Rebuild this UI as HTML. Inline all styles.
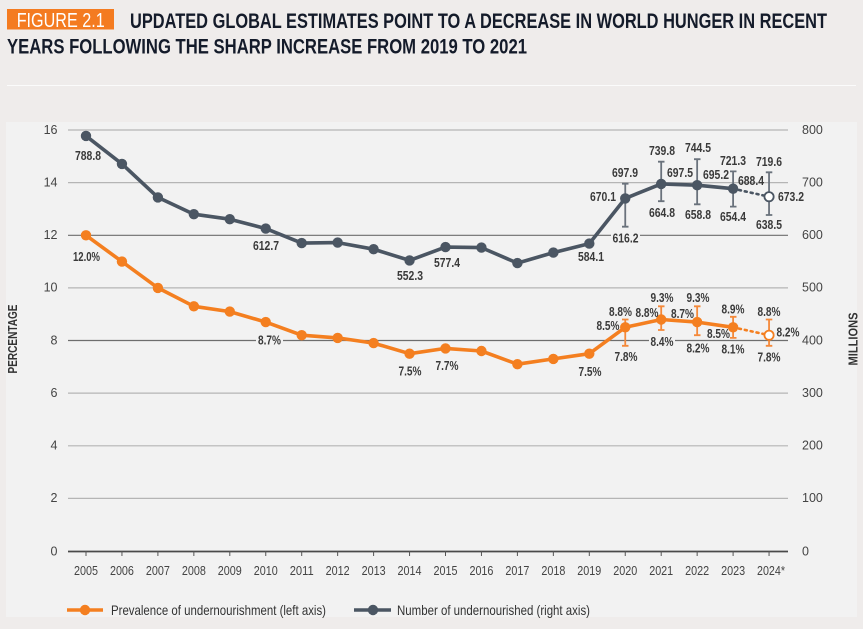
<!DOCTYPE html>
<html><head><meta charset="utf-8"><style>
html,body{margin:0;padding:0;background:#efeceb;}
svg{display:block;}
text{font-family:"Liberation Sans Narrow","Liberation Sans",sans-serif;}
.t{font-weight:bold;fill:#141b2a;font-size:21px;}
.ax{font-size:12.5px;fill:#444;}
.lb{font-size:12.5px;font-weight:bold;fill:#3a3a3a;}
.lg{font-size:14px;fill:#333;}
.at{font-size:12.5px;font-weight:bold;fill:#333;}
</style></head><body>
<svg width="863" height="629" viewBox="0 0 863 629" xmlns="http://www.w3.org/2000/svg">
<rect x="0" y="0" width="863" height="629" fill="#efeceb"/>
<!-- title -->
<rect x="7" y="9" width="107" height="20.5" fill="#f47b20"/>
<text x="16.7" y="27" font-size="20" fill="#fff" textLength="88" lengthAdjust="spacingAndGlyphs">FIGURE 2.1</text>
<text class="t" x="130" y="28" textLength="697" lengthAdjust="spacingAndGlyphs">UPDATED GLOBAL ESTIMATES POINT TO A DECREASE IN WORLD HUNGER IN RECENT</text>
<text class="t" x="7" y="53.5" textLength="520" lengthAdjust="spacingAndGlyphs">YEARS FOLLOWING THE SHARP INCREASE FROM 2019 TO 2021</text>
<line x1="7" y1="85.5" x2="856" y2="85.5" stroke="#fbfbfb" stroke-width="1"/>
<!-- panel -->
<rect x="6" y="122" width="851" height="495" fill="#f2f2f2"/>
<!-- gridlines -->
<g stroke-width="1.2">
<line x1="68" y1="130" x2="788" y2="130" stroke="#b5b5b5"/>
<line x1="68" y1="182.6" x2="788" y2="182.6" stroke="#b5b5b5"/>
<line x1="68" y1="235.3" x2="788" y2="235.3" stroke="#6e6e6e"/>
<line x1="68" y1="287.9" x2="788" y2="287.9" stroke="#b5b5b5"/>
<line x1="68" y1="340.5" x2="788" y2="340.5" stroke="#6e6e6e"/>
<line x1="68" y1="393.1" x2="788" y2="393.1" stroke="#b5b5b5"/>
<line x1="68" y1="445.8" x2="788" y2="445.8" stroke="#b5b5b5"/>
<line x1="68" y1="498.4" x2="788" y2="498.4" stroke="#b5b5b5"/>
</g>
<line x1="68" y1="551.5" x2="788" y2="551.5" stroke="#4a4a4a" stroke-width="1.8"/>
<!-- x ticks -->
<g stroke="#555" stroke-width="1">
<line x1="86" y1="551" x2="86" y2="556"/><line x1="121.95" y1="551" x2="121.95" y2="556"/><line x1="157.9" y1="551" x2="157.9" y2="556"/><line x1="193.85" y1="551" x2="193.85" y2="556"/><line x1="229.8" y1="551" x2="229.8" y2="556"/><line x1="265.75" y1="551" x2="265.75" y2="556"/><line x1="301.7" y1="551" x2="301.7" y2="556"/><line x1="337.65" y1="551" x2="337.65" y2="556"/><line x1="373.6" y1="551" x2="373.6" y2="556"/><line x1="409.55" y1="551" x2="409.55" y2="556"/><line x1="445.5" y1="551" x2="445.5" y2="556"/><line x1="481.45" y1="551" x2="481.45" y2="556"/><line x1="517.4" y1="551" x2="517.4" y2="556"/><line x1="553.35" y1="551" x2="553.35" y2="556"/><line x1="589.3" y1="551" x2="589.3" y2="556"/><line x1="625.25" y1="551" x2="625.25" y2="556"/><line x1="661.2" y1="551" x2="661.2" y2="556"/><line x1="697.15" y1="551" x2="697.15" y2="556"/><line x1="733.1" y1="551" x2="733.1" y2="556"/><line x1="769.05" y1="551" x2="769.05" y2="556"/>
</g>
<!-- left axis labels -->
<g class="ax" text-anchor="end">
<text x="57.5" y="133.8">16</text><text x="57.5" y="186.4">14</text><text x="57.5" y="239.1">12</text><text x="57.5" y="291.7">10</text><text x="57.5" y="344.3">8</text><text x="57.5" y="396.9">6</text><text x="57.5" y="449.6">4</text><text x="57.5" y="502.2">2</text><text x="57.5" y="555.3">0</text>
</g>
<!-- right axis labels -->
<g class="ax">
<text x="802" y="133.8">800</text><text x="802" y="186.4">700</text><text x="802" y="239.1">600</text><text x="802" y="291.7">500</text><text x="802" y="344.3">400</text><text x="802" y="396.9">300</text><text x="802" y="449.6">200</text><text x="802" y="502.2">100</text><text x="802" y="555.3">0</text>
</g>
<!-- x labels -->
<g class="ax" text-anchor="middle">
<text x="86" y="575" textLength="24" lengthAdjust="spacingAndGlyphs">2005</text>
<text x="121.95" y="575" textLength="24" lengthAdjust="spacingAndGlyphs">2006</text>
<text x="157.9" y="575" textLength="24" lengthAdjust="spacingAndGlyphs">2007</text>
<text x="193.85" y="575" textLength="24" lengthAdjust="spacingAndGlyphs">2008</text>
<text x="229.8" y="575" textLength="24" lengthAdjust="spacingAndGlyphs">2009</text>
<text x="265.75" y="575" textLength="24" lengthAdjust="spacingAndGlyphs">2010</text>
<text x="301.7" y="575" textLength="24" lengthAdjust="spacingAndGlyphs">2011</text>
<text x="337.65" y="575" textLength="24" lengthAdjust="spacingAndGlyphs">2012</text>
<text x="373.6" y="575" textLength="24" lengthAdjust="spacingAndGlyphs">2013</text>
<text x="409.55" y="575" textLength="24" lengthAdjust="spacingAndGlyphs">2014</text>
<text x="445.5" y="575" textLength="24" lengthAdjust="spacingAndGlyphs">2015</text>
<text x="481.45" y="575" textLength="24" lengthAdjust="spacingAndGlyphs">2016</text>
<text x="517.4" y="575" textLength="24" lengthAdjust="spacingAndGlyphs">2017</text>
<text x="553.35" y="575" textLength="24" lengthAdjust="spacingAndGlyphs">2018</text>
<text x="589.3" y="575" textLength="24" lengthAdjust="spacingAndGlyphs">2019</text>
<text x="625.25" y="575" textLength="24" lengthAdjust="spacingAndGlyphs">2020</text>
<text x="661.2" y="575" textLength="24" lengthAdjust="spacingAndGlyphs">2021</text>
<text x="697.15" y="575" textLength="24" lengthAdjust="spacingAndGlyphs">2022</text>
<text x="733.1" y="575" textLength="24" lengthAdjust="spacingAndGlyphs">2023</text>
<text x="771" y="575" textLength="28" lengthAdjust="spacingAndGlyphs">2024*</text>
</g>
<!-- axis titles -->
<text class="at" transform="translate(17,339) rotate(-90)" text-anchor="middle" textLength="69" lengthAdjust="spacingAndGlyphs">PERCENTAGE</text>
<text class="at" transform="translate(857.5,339) rotate(-90)" text-anchor="middle" textLength="53" lengthAdjust="spacingAndGlyphs">MILLIONS</text>

<!-- error bars millions -->
<g stroke="#6a727c" stroke-width="1.8" fill="none">
<path d="M625.25 226.7V183.7M622 226.7h6.5M622 183.7h6.5"/>
<path d="M661.2 201.2V161.7M658 201.2h6.5M658 161.7h6.5"/>
<path d="M697.15 204.3V159.2M694 204.3h6.5M694 159.2h6.5"/>
<path d="M733.1 206.6V171.4M730 206.6h6.5M730 171.4h6.5"/>
<path d="M769.05 215V172.3M765.8 215h6.5M765.8 172.3h6.5"/>
</g>
<!-- error bars pct -->
<g stroke="#f4893a" stroke-width="1.8" fill="none">
<path d="M625.25 345.8V319.5M622 345.8h6.5M622 319.5h6.5"/>
<path d="M661.2 330V306.3M658 330h6.5M658 306.3h6.5"/>
<path d="M697.15 335.2V306.3M694 335.2h6.5M694 306.3h6.5"/>
<path d="M733.1 337.9V316.8M730 337.9h6.5M730 316.8h6.5"/>
<path d="M769.05 345.8V319.5M765.8 345.8h6.5M765.8 319.5h6.5"/>
</g>

<!-- millions series -->
<polyline fill="none" stroke="#4b5663" stroke-width="3.6" stroke-linejoin="round" points="86,135.9 121.95,163.9 157.9,197.4 193.85,214.2 229.8,219.2 265.75,228.6 301.7,243.1 337.65,242.6 373.6,249.2 409.55,260.4 445.5,247.1 481.45,247.6 517.4,263.1 553.35,252.6 589.3,243.6 625.25,198.4 661.2,183.9 697.15,185.2 733.1,188.7"/>
<line x1="733.1" y1="188.7" x2="769.05" y2="196.7" stroke="#4b5663" stroke-width="2.6" stroke-dasharray="2 4" stroke-linecap="round"/>
<g fill="#4b5663">
<circle cx="86" cy="135.9" r="5.2"/><circle cx="121.95" cy="163.9" r="5.2"/><circle cx="157.9" cy="197.4" r="5.2"/><circle cx="193.85" cy="214.2" r="5.2"/><circle cx="229.8" cy="219.2" r="5.2"/><circle cx="265.75" cy="228.6" r="5.2"/><circle cx="301.7" cy="243.1" r="5.2"/><circle cx="337.65" cy="242.6" r="5.2"/><circle cx="373.6" cy="249.2" r="5.2"/><circle cx="409.55" cy="260.4" r="5.2"/><circle cx="445.5" cy="247.1" r="5.2"/><circle cx="481.45" cy="247.6" r="5.2"/><circle cx="517.4" cy="263.1" r="5.2"/><circle cx="553.35" cy="252.6" r="5.2"/><circle cx="589.3" cy="243.6" r="5.2"/><circle cx="625.25" cy="198.4" r="5.2"/><circle cx="661.2" cy="183.9" r="5.2"/><circle cx="697.15" cy="185.2" r="5.2"/><circle cx="733.1" cy="188.7" r="5.2"/>
</g>
<circle cx="769.05" cy="196.7" r="4.6" fill="#fff" stroke="#4b5663" stroke-width="1.8"/>

<!-- pct series -->
<polyline fill="none" stroke="#f47f20" stroke-width="3.6" stroke-linejoin="round" points="86,235.3 121.95,261.6 157.9,287.9 193.85,306.3 229.8,311.6 265.75,322.1 301.7,335.2 337.65,337.9 373.6,343.1 409.55,353.7 445.5,348.4 481.45,351 517.4,364.2 553.35,358.9 589.3,353.7 625.25,327.3 661.2,319.5 697.15,322.1 733.1,327.3"/>
<line x1="733.1" y1="327.3" x2="769.05" y2="335.2" stroke="#f47f20" stroke-width="2.6" stroke-dasharray="2 4" stroke-linecap="round"/>
<g fill="#f47f20">
<circle cx="86" cy="235.3" r="5.2"/><circle cx="121.95" cy="261.6" r="5.2"/><circle cx="157.9" cy="287.9" r="5.2"/><circle cx="193.85" cy="306.3" r="5.2"/><circle cx="229.8" cy="311.6" r="5.2"/><circle cx="265.75" cy="322.1" r="5.2"/><circle cx="301.7" cy="335.2" r="5.2"/><circle cx="337.65" cy="337.9" r="5.2"/><circle cx="373.6" cy="343.1" r="5.2"/><circle cx="409.55" cy="353.7" r="5.2"/><circle cx="445.5" cy="348.4" r="5.2"/><circle cx="481.45" cy="351" r="5.2"/><circle cx="517.4" cy="364.2" r="5.2"/><circle cx="553.35" cy="358.9" r="5.2"/><circle cx="589.3" cy="353.7" r="5.2"/><circle cx="625.25" cy="327.3" r="5.2"/><circle cx="661.2" cy="319.5" r="5.2"/><circle cx="697.15" cy="322.1" r="5.2"/><circle cx="733.1" cy="327.3" r="5.2"/>
</g>
<circle cx="769.05" cy="335.2" r="4.6" fill="#fff" stroke="#f47f20" stroke-width="1.8"/>

<!-- label backgrounds -->
<g fill="#f2f2f2">
<rect x="256" y="334" width="27" height="13"/>
<rect x="611" y="232" width="29" height="13"/>
<rect x="649" y="335" width="26" height="13"/>
</g>
<!-- millions labels -->
<g class="lb" text-anchor="middle">
<text x="88" y="160" textLength="26" lengthAdjust="spacingAndGlyphs">788.8</text>
<text x="266" y="250" textLength="26" lengthAdjust="spacingAndGlyphs">612.7</text>
<text x="410" y="280" textLength="26" lengthAdjust="spacingAndGlyphs">552.3</text>
<text x="447" y="267" textLength="26" lengthAdjust="spacingAndGlyphs">577.4</text>
<text x="591" y="261" textLength="26" lengthAdjust="spacingAndGlyphs">584.1</text>
<text x="603" y="201" textLength="26" lengthAdjust="spacingAndGlyphs">670.1</text>
<text x="625" y="177" textLength="26" lengthAdjust="spacingAndGlyphs">697.9</text>
<text x="625.5" y="242.5" textLength="26" lengthAdjust="spacingAndGlyphs">616.2</text>
<text x="662" y="155" textLength="26" lengthAdjust="spacingAndGlyphs">739.8</text>
<text x="698" y="152" textLength="26" lengthAdjust="spacingAndGlyphs">744.5</text>
<text x="680" y="177" textLength="26" lengthAdjust="spacingAndGlyphs">697.5</text>
<text x="716" y="179" textLength="26" lengthAdjust="spacingAndGlyphs">695.2</text>
<text x="662" y="217" textLength="26" lengthAdjust="spacingAndGlyphs">664.8</text>
<text x="698" y="219" textLength="26" lengthAdjust="spacingAndGlyphs">658.8</text>
<text x="733" y="165" textLength="26" lengthAdjust="spacingAndGlyphs">721.3</text>
<text x="751" y="185" textLength="26" lengthAdjust="spacingAndGlyphs">688.4</text>
<text x="733" y="221" textLength="26" lengthAdjust="spacingAndGlyphs">654.4</text>
<text x="769" y="166" textLength="26" lengthAdjust="spacingAndGlyphs">719.6</text>
<text x="791" y="201" textLength="26" lengthAdjust="spacingAndGlyphs">673.2</text>
<text x="769" y="229" textLength="26" lengthAdjust="spacingAndGlyphs">638.5</text>
</g>
<!-- pct labels -->
<g class="lb" text-anchor="middle">
<text x="86.5" y="261" textLength="27" lengthAdjust="spacingAndGlyphs">12.0%</text>
<text x="269.5" y="344.5" textLength="23" lengthAdjust="spacingAndGlyphs">8.7%</text>
<text x="410" y="375.5" textLength="23" lengthAdjust="spacingAndGlyphs">7.5%</text>
<text x="447" y="370" textLength="23" lengthAdjust="spacingAndGlyphs">7.7%</text>
<text x="590" y="376" textLength="23" lengthAdjust="spacingAndGlyphs">7.5%</text>
<text x="620.5" y="316" textLength="23" lengthAdjust="spacingAndGlyphs">8.8%</text>
<text x="608" y="330" textLength="23" lengthAdjust="spacingAndGlyphs">8.5%</text>
<text x="626" y="361" textLength="23" lengthAdjust="spacingAndGlyphs">7.8%</text>
<text x="662" y="302" textLength="23" lengthAdjust="spacingAndGlyphs">9.3%</text>
<text x="647" y="317" textLength="23" lengthAdjust="spacingAndGlyphs">8.8%</text>
<text x="662" y="346" textLength="23" lengthAdjust="spacingAndGlyphs">8.4%</text>
<text x="698" y="302" textLength="23" lengthAdjust="spacingAndGlyphs">9.3%</text>
<text x="682.5" y="318" textLength="23" lengthAdjust="spacingAndGlyphs">8.7%</text>
<text x="698" y="352.5" textLength="23" lengthAdjust="spacingAndGlyphs">8.2%</text>
<text x="733" y="313.5" textLength="23" lengthAdjust="spacingAndGlyphs">8.9%</text>
<text x="718.5" y="338" textLength="23" lengthAdjust="spacingAndGlyphs">8.5%</text>
<text x="733" y="353.5" textLength="23" lengthAdjust="spacingAndGlyphs">8.1%</text>
<text x="769" y="316" textLength="23" lengthAdjust="spacingAndGlyphs">8.8%</text>
<text x="788" y="336.5" textLength="23" lengthAdjust="spacingAndGlyphs">8.2%</text>
<text x="769" y="361.5" textLength="23" lengthAdjust="spacingAndGlyphs">7.8%</text>
</g>

<!-- legend -->
<line x1="67" y1="610" x2="103" y2="610" stroke="#f47f20" stroke-width="3.6"/>
<circle cx="85" cy="610" r="5.2" fill="#f47f20"/>
<text class="lg" x="111" y="615" textLength="215" lengthAdjust="spacingAndGlyphs">Prevalence of undernourishment (left axis)</text>
<line x1="354" y1="610" x2="391" y2="610" stroke="#4b5663" stroke-width="3.6"/>
<circle cx="373" cy="610" r="5.2" fill="#4b5663"/>
<text class="lg" x="397" y="615" textLength="193" lengthAdjust="spacingAndGlyphs">Number of undernourished (right axis)</text>
</svg>
</body></html>
